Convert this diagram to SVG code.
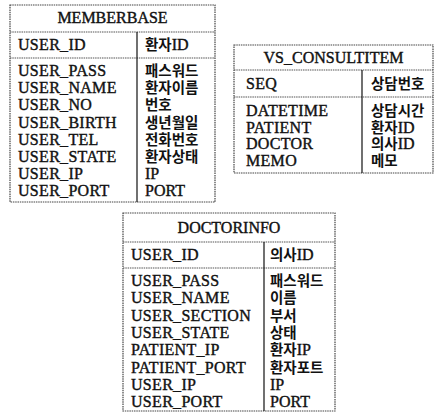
<svg xmlns="http://www.w3.org/2000/svg" width="441" height="412" viewBox="0 0 441 412">
  <style>
    .bg { fill: #ffffff; }
    .frame { fill: none; stroke: #444; stroke-width: 1.2; stroke-dasharray: 1.5 0.8; }
    .sep { fill: none; stroke: #555; stroke-width: 1.2; stroke-dasharray: 1.5 0.8; }
    .div { stroke: #111; stroke-width: 1.2; }
    text { fill: #111; stroke: #111; stroke-width: 0.4; }
    .en { font-family: "Liberation Serif", "Times New Roman", serif; font-size: 16px; letter-spacing: 0.3px; }
    .ttl { font-family: "Liberation Serif", "Times New Roman", serif; font-size: 16px; text-anchor: middle; }
    .kr { font-family: "Liberation Serif", "Noto Sans CJK KR", serif; font-size: 14.5px; font-weight: 700; stroke-width: 0; }
    .kr tspan.l { font-size: 16px; font-weight: 400; stroke-width: 0.4; }
  </style>
  <rect class="bg" x="0" y="0" width="441" height="412"/>

  <!-- MEMBERBASE table -->
  <g id="memberbase">
    <rect class="frame" x="10" y="5" width="205" height="197"/>
    <line class="sep" x1="10" y1="32" x2="215" y2="32"/>
    <line class="sep" x1="10" y1="58" x2="215" y2="58"/>
    <line class="div" x1="137" y1="32" x2="137" y2="202"/>
    <text class="ttl" x="112.5" y="23">MEMBERBASE</text>
    <text class="en" x="18" y="50">USER_ID</text>
    <text class="kr" x="145" y="50">환자<tspan class="l">ID</tspan></text>
    <text class="en" x="18" y="76">USER_PASS</text>
    <text class="en" x="18" y="93.2">USER_NAME</text>
    <text class="en" x="18" y="110.4">USER_NO</text>
    <text class="en" x="18" y="127.6">USER_BIRTH</text>
    <text class="en" x="18" y="144.8">USER_TEL</text>
    <text class="en" x="18" y="162">USER_STATE</text>
    <text class="en" x="18" y="179.2">USER_IP</text>
    <text class="en" x="18" y="196.4">USER_PORT</text>
    <text class="kr" x="145" y="76">패스워드</text>
    <text class="kr" x="145" y="93.2">환자이름</text>
    <text class="kr" x="145" y="110.4">번호</text>
    <text class="kr" x="145" y="127.6">생년월일</text>
    <text class="kr" x="145" y="144.8">전화번호</text>
    <text class="kr" x="145" y="162">환자상태</text>
    <text class="kr" x="145" y="179.2"><tspan class="l">IP</tspan></text>
    <text class="kr" x="145" y="196.4"><tspan class="l">PORT</tspan></text>
  </g>

  <!-- VS_CONSULTITEM table -->
  <g id="vs_consultitem">
    <rect class="frame" x="234" y="45" width="199" height="128"/>
    <line class="sep" x1="234" y1="70" x2="433" y2="70"/>
    <line class="sep" x1="234" y1="97" x2="433" y2="97"/>
    <line class="div" x1="362" y1="70" x2="362" y2="173"/>
    <text class="ttl" x="333.5" y="63">VS_CONSULTITEM</text>
    <text class="en" x="246" y="89">SEQ</text>
    <text class="kr" x="371" y="89">상담번호</text>
    <text class="en" x="246" y="116">DATETIME</text>
    <text class="en" x="246" y="132.5">PATIENT</text>
    <text class="en" x="246" y="149">DOCTOR</text>
    <text class="en" x="246" y="165.5">MEMO</text>
    <text class="kr" x="371" y="116">상담시간</text>
    <text class="kr" x="371" y="132.5">환자<tspan class="l">ID</tspan></text>
    <text class="kr" x="371" y="149">의사<tspan class="l">ID</tspan></text>
    <text class="kr" x="371" y="165.5">메모</text>
  </g>

  <!-- DOCTORINFO table -->
  <g id="doctorinfo">
    <rect class="frame" x="123" y="213" width="212" height="198"/>
    <line class="sep" x1="123" y1="242" x2="335" y2="242"/>
    <line class="sep" x1="123" y1="268" x2="335" y2="268"/>
    <line class="div" x1="264" y1="242" x2="264" y2="411"/>
    <text class="ttl" x="229" y="233">DOCTORINFO</text>
    <text class="en" x="131" y="260">USER_ID</text>
    <text class="kr" x="270" y="260">의사<tspan class="l">ID</tspan></text>
    <text class="en" x="131" y="286">USER_PASS</text>
    <text class="en" x="131" y="303.3">USER_NAME</text>
    <text class="en" x="131" y="320.6">USER_SECTION</text>
    <text class="en" x="131" y="337.9">USER_STATE</text>
    <text class="en" x="131" y="355.2">PATIENT_IP</text>
    <text class="en" x="131" y="372.5">PATIENT_PORT</text>
    <text class="en" x="131" y="389.8">USER_IP</text>
    <text class="en" x="131" y="407.1">USER_PORT</text>
    <text class="kr" x="270" y="286">패스워드</text>
    <text class="kr" x="270" y="303.3">이름</text>
    <text class="kr" x="270" y="320.6">부서</text>
    <text class="kr" x="270" y="337.9">상태</text>
    <text class="kr" x="270" y="355.2">환자<tspan class="l">IP</tspan></text>
    <text class="kr" x="270" y="372.5">환자포트</text>
    <text class="kr" x="270" y="389.8"><tspan class="l">IP</tspan></text>
    <text class="kr" x="270" y="407.1"><tspan class="l">PORT</tspan></text>
  </g>

  <!-- no connectors between the tables -->
  <g id="connectors"/>
</svg>
